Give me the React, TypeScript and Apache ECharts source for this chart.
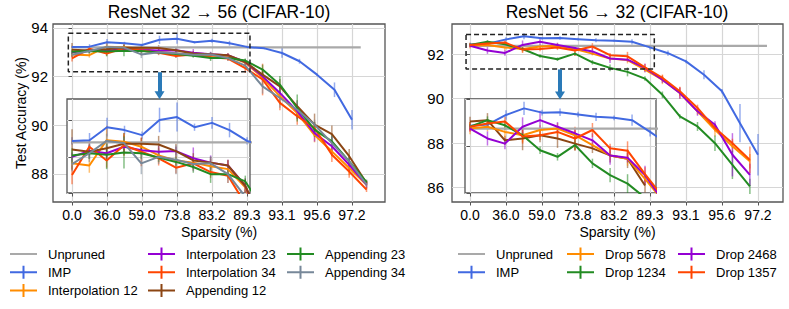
import React, { useEffect, useRef } from 'react';
import * as echarts from 'echarts';

const FONT = '"Liberation Sans", Arial, Helvetica, sans-serif';

// ---------- shared x-axis ticks ----------
const sparsityTicks = [0, 2, 4, 6, 8, 10, 12, 14, 16];
const sparsityLabels = ['0.0', '36.0', '59.0', '73.8', '83.2', '89.3', '93.1', '95.6', '97.2'];

// ---------- Left panel: ResNet 32 -> 56 ----------
const unprunedL = 93.2;
const unprunedSpan = [0, 16.5];
const impStepsL = [0, 1, 2, 3, 4, 5, 6, 7, 8, 9, 10, 11, 12, 13, 14, 15, 16];
const methodStepsL = [0, 0.99, 1.98, 2.97, 3.96, 4.95, 5.94, 6.93, 7.92, 8.91, 9.9, 10.89, 11.88, 12.87, 13.86, 14.85, 15.84, 16.83];

const impL = [93.22, 93.23, 93.41, 93.37, 93.3, 93.51, 93.55, 93.41, 93.47, 93.37, 93.22, 93.16, 92.97, 92.63, 92.08, 91.46, 90.23];
const impErrL = [0.05, 0.1, 0.13, 0.06, 0.05, 0.17, 0.2, 0.05, 0.08, 0.1, 0.05, 0.04, 0.2, 0.1, 0.05, 0.3, 0.4];

const interp12 = [92.91, 92.88, 93.23, 93.21, 93.14, 93.02, 92.95, 92.92, 92.87, 92.83, 92.58, 91.95, 91.2, 90.5, 89.6, 88.93, 88.25, 87.56];
const interp12Err = [0.08, 0.1, 0.2, 0.12, 0.08, 0.1, 0.06, 0.08, 0.1, 0.12, 0.1, 0.3, 0.35, 0.25, 0.3, 0.2, 0.3, 0.15];
const interp23 = [93.0, 93.08, 93.05, 93.14, 93.09, 93.07, 93.08, 92.98, 92.92, 92.88, 92.6, 92.01, 91.33, 90.58, 89.68, 89.14, 88.38, 87.56];
const interp23Err = [0.06, 0.08, 0.1, 0.07, 0.06, 0.08, 0.06, 0.15, 0.1, 0.08, 0.1, 0.2, 0.25, 0.3, 0.35, 0.4, 0.3, 0.15];
const interp34 = [92.75, 93.14, 92.95, 93.16, 93.07, 92.98, 92.85, 92.91, 92.79, 92.74, 92.35, 91.88, 90.92, 90.37, 89.89, 88.79, 88.1, 87.36];
const interp34Err = [0.13, 0.08, 0.1, 0.15, 0.2, 0.1, 0.08, 0.1, 0.08, 0.1, 0.2, 0.65, 0.3, 0.35, 0.25, 0.3, 0.25, 0.1];
const append12 = [93.1, 93.07, 93.12, 93.18, 93.18, 93.17, 93.08, 92.95, 92.92, 92.88, 92.6, 92.08, 91.6, 90.78, 90.03, 89.64, 88.73, 87.63];
const append12Err = [0.28, 0.1, 0.12, 0.15, 0.08, 0.12, 0.1, 0.1, 0.08, 0.08, 0.1, 0.2, 0.3, 0.25, 0.45, 0.35, 0.3, 0.1];
const append23 = [93.02, 93.05, 93.03, 93.06, 93.05, 92.99, 92.93, 92.86, 92.76, 92.76, 92.66, 92.29, 91.67, 90.71, 89.82, 89.34, 88.52, 87.67];
const append23Err = [0.1, 0.08, 0.2, 0.22, 0.08, 0.06, 0.06, 0.08, 0.12, 0.06, 0.08, 0.2, 0.35, 0.55, 0.3, 0.25, 0.2, 0.1];
const append34 = [92.9, 93.05, 93.22, 93.19, 92.91, 93.0, 92.96, 92.9, 92.91, 92.76, 92.45, 91.6, 91.12, 90.64, 90.03, 89.27, 88.52, 87.56];
const append34Err = [0.1, 0.12, 0.1, 0.08, 0.15, 0.1, 0.2, 0.1, 0.1, 0.12, 0.1, 0.3, 0.4, 0.35, 0.2, 0.3, 0.25, 0.1];

// ---------- Right panel: ResNet 56 -> 32 ----------
const unprunedR = 92.37;
const impStepsR = [0, 1, 2, 3, 4, 5, 6, 7, 8, 9, 10, 11, 12, 13, 14, 15, 16];
const dropSteps = [0, 0.97, 1.94, 2.92, 3.89, 4.86, 5.83, 6.8, 7.78, 8.75, 9.72, 10.69, 11.66, 12.64, 13.61, 14.58, 15.55];

const impR = [92.43, 92.46, 92.66, 92.8, 92.71, 92.72, 92.67, 92.62, 92.6, 92.55, 92.3, 92.04, 91.67, 91.07, 90.33, 88.9, 87.48];
const impErrR = [0.08, 0.1, 0.1, 0.14, 0.06, 0.08, 0.06, 0.09, 0.05, 0.12, 0.1, 0.12, 0.08, 0.2, 0.1, 0.86, 0.93];
const drop5678 = [92.37, 92.41, 92.3, 92.23, 92.34, 92.37, 92.23, 92.02, 91.8, 91.73, 91.3, 90.85, 90.25, 89.43, 88.6, 87.86, 87.19];
const drop5678Err = [0.12, 0.1, 0.15, 0.15, 0.1, 0.12, 0.1, 0.08, 0.1, 0.15, 0.12, 0.2, 0.25, 0.15, 0.3, 0.25, 0.33];
const drop1234 = [92.41, 92.55, 92.44, 92.23, 91.91, 91.77, 92.02, 91.63, 91.38, 91.2, 90.9, 90.17, 89.2, 88.75, 88.0, 87.03, 86.06];
const drop1234Err = [0.06, 0.08, 0.1, 0.06, 0.08, 0.08, 0.1, 0.1, 0.15, 0.2, 0.1, 0.15, 0.1, 0.2, 0.35, 0.64, 0.34];
const drop2468 = [92.37, 92.16, 92.05, 92.41, 92.55, 92.41, 92.27, 92.12, 91.8, 91.75, 91.38, 90.85, 90.25, 89.43, 88.83, 87.48, 86.58];
const drop2468Err = [0.06, 0.15, 0.12, 0.2, 0.2, 0.1, 0.1, 0.15, 0.2, 0.1, 0.2, 0.15, 0.25, 0.2, 0.15, 0.97, 0.5];
const drop1357 = [92.41, 92.48, 92.52, 92.2, 92.23, 92.3, 92.16, 92.34, 91.95, 91.9, 91.4, 90.93, 90.33, 89.58, 88.68, 88.0, 87.25];
const drop1357Err = [0.1, 0.08, 0.1, 0.15, 0.1, 0.12, 0.25, 0.15, 0.1, 0.2, 0.15, 0.15, 0.2, 0.15, 0.15, 0.2, 0.6];
// brown curve only visible inside the right inset
const insetExtra = [92.52, 92.55, 92.12, 92.16, 92.23, 92.16, 92.05, 91.95, 91.8, 91.73, 91.16];
const insetExtraErr = [0.1, 0.15, 0.1, 0.25, 0.15, 0.2, 0.15, 0.1, 0.15, 0.2, 0.15];

// ---------- colours ----------
const C = {
  unpruned: '#a9a9a9',
  imp: '#4169e1',
  orange: '#ff8c00',
  purple: '#9400d3',
  red: '#ff4500',
  brown: '#8b4513',
  green: '#228b22',
  slate: '#778899',
  arrow: '#2a7ab8',
};

const AXIS_COLOR = '#555';
const GRID_COLOR = '#d6d6d6';

const crossIcon = 'path://M0,5.5h27v2H0z M12.5,0h2v13h-2z M33,6.5';
const plainIcon = 'path://M0,5.5h27v2H0z M0,0 M33,13';

function labelFor(v: number) {
  const i = sparsityTicks.findIndex((t) => Math.abs(t - v) < 1e-6);
  return i >= 0 ? sparsityLabels[i] : '';
}

function mainX(gridIndex: number, min: number, max: number) {
  return {
    type: 'value', gridIndex, min, max, z: 0,
    axisLine: { show: false },
    axisTick: { show: true, length: 3.5, lineStyle: { color: AXIS_COLOR, width: 1 }, customValues: sparsityTicks },
    axisLabel: { customValues: sparsityTicks, formatter: (v: number) => labelFor(v), fontSize: 14, color: '#000', fontFamily: FONT, margin: 6 },
    splitLine: { show: true, lineStyle: { color: GRID_COLOR, width: 1.2 } },
    name: 'Sparsity (%)', nameLocation: 'middle', nameGap: 22.5, nameMoveOverlap: false,
    nameTextStyle: { fontSize: 14, color: '#000', fontFamily: FONT },
  };
}

function mainY(gridIndex: number, min: number, max: number, ticks: number[], margin: number, name?: string) {
  return {
    type: 'value', gridIndex, min, max, z: 0,
    axisLine: { show: false },
    axisTick: { show: true, length: 3.5, lineStyle: { color: AXIS_COLOR, width: 1 }, customValues: ticks },
    axisLabel: { customValues: ticks, formatter: (v: number) => String(Math.round(v)), fontSize: 15, color: '#000', fontFamily: FONT, margin },
    splitLine: { show: true, lineStyle: { color: GRID_COLOR, width: 1.2 } },
    name: name || '', nameLocation: 'middle', nameGap: 25, nameMoveOverlap: false,
    nameTextStyle: { fontSize: 14, color: '#000', fontFamily: FONT },
  };
}

function insetX(gridIndex: number, min: number, max: number, ticks: number[]) {
  return {
    type: 'value', gridIndex, min, max, z: 5,
    axisLine: { show: false },
    axisTick: { show: true, length: 3.5, lineStyle: { color: AXIS_COLOR, width: 1 }, customValues: ticks },
    axisLabel: { show: false, customValues: ticks },
    splitLine: { show: true, lineStyle: { color: GRID_COLOR, width: 1.2 } },
  };
}

function insetY(gridIndex: number, min: number, max: number, ticks: number[]) {
  return {
    type: 'value', gridIndex, min, max, z: 5,
    axisLine: { show: false },
    axisTick: { show: true, length: 3.5, lineStyle: { color: AXIS_COLOR, width: 1 }, customValues: ticks },
    axisLabel: { show: false, customValues: ticks },
    splitLine: { show: true, lineStyle: { color: GRID_COLOR, width: 1.2 } },
  };
}

function lineS(name: string, color: string, xs: number[], ys: number[], axis: number, z: number, width = 2) {
  return {
    type: 'line', name, xAxisIndex: axis, yAxisIndex: axis,
    data: ys.map((y, i) => [xs[i], y]),
    symbol: 'none', color, lineStyle: { color, width }, itemStyle: { color },
    z, silent: true, clip: true, animation: false,
  };
}

function errS(name: string, color: string, xs: number[], ys: number[], es: number[], axis: number, z: number) {
  return {
    type: 'custom', name: name + ' (std)', xAxisIndex: axis, yAxisIndex: axis,
    dimensions: ['x', 'y', 'e'],
    encode: { x: 0, y: 1 },
    data: ys.map((y, i) => [xs[i], y, es[i]]),
    z, silent: true, animation: false,
    renderItem: (params: any, api: any) => {
      const x = api.value(0);
      const y = api.value(1);
      const e = api.value(2);
      const p1 = api.coord([x, y + e]);
      const p2 = api.coord([x, y - e]);
      const cs = params.coordSys;
      if (p1[0] < cs.x - 0.5 || p1[0] > cs.x + cs.width + 0.5) return null;
      const top = Math.max(p1[1], cs.y);
      const bot = Math.min(p2[1], cs.y + cs.height);
      if (bot <= top) return null;
      return {
        type: 'line',
        shape: { x1: p1[0], y1: top, x2: p1[0], y2: bot },
        style: { stroke: color, lineWidth: 1.5, opacity: 0.55 },
      };
    },
  };
}

function withErr(name: string, color: string, xs: number[], ys: number[], es: number[], axis: number, z: number) {
  return [errS(name, color, xs, ys, es, axis, z), lineS(name, color, xs, ys, axis, z + 0.1)];
}

function boxS(axis: number, x0: number, x1: number, y0: number, y1: number, ax: number, ayFrom: number, ayTo: number) {
  return {
    type: 'line', name: 'zoom-box', xAxisIndex: axis, yAxisIndex: axis,
    data: [[x0, y1], [x1, y1], [x1, y0], [x0, y0], [x0, y1]],
    symbol: 'none', lineStyle: { color: '#222', width: 1.5, type: [5, 3] },
    z: 4, silent: true, animation: false, clip: false,
    markLine: {
      silent: true, animation: false,
      symbol: ['none', 'triangle'], symbolSize: [10, 8],
      label: { show: false },
      lineStyle: { color: C.arrow, width: 4, type: 'solid' },
      data: [[{ coord: [ax, ayFrom] }, { coord: [ax, ayTo] }]],
    },
  };
}

const legendBase = {
  orient: 'vertical', padding: 0, itemWidth: 33, itemHeight: 13, itemGap: 5.3,
  selectedMode: false,
  textStyle: { fontSize: 13, color: '#000', fontFamily: FONT },
  itemStyle: { borderWidth: 0 },
};

function buildOption() {
  const series: any[] = [];
  // ----- left main (axis 0) and inset (axis 1) -----
  series.push(lineS('Unpruned', C.unpruned, unprunedSpan, [unprunedL, unprunedL], 0, 2, 2.2));
  const leftMethods: [string, string, number[], number[]][] = [
    ['Interpolation 12', C.orange, interp12, interp12Err],
    ['Interpolation 23', C.purple, interp23, interp23Err],
    ['Interpolation 34', C.red, interp34, interp34Err],
    ['Appending 12', C.brown, append12, append12Err],
    ['Appending 23', C.green, append23, append23Err],
    ['Appending 34', C.slate, append34, append34Err],
  ];
  for (const axis of [0, 1]) {
    const zb = axis === 0 ? 2 : 6;
    if (axis === 1) series.push(lineS('Unpruned', C.unpruned, unprunedSpan, [unprunedL, unprunedL], 1, zb, 2.2));
    series.push(...withErr('IMP', C.imp, impStepsL, impL, impErrL, axis, zb));
    for (const [n, c, ys, es] of leftMethods) series.push(...withErr(n, c, methodStepsL, ys, es, axis, zb));
  }
  // ----- right main (axis 2) and inset (axis 3) -----
  const rightMethods: [string, string, number[], number[]][] = [
    ['Drop 5678', C.orange, drop5678, drop5678Err],
    ['Drop 1234', C.green, drop1234, drop1234Err],
    ['Drop 2468', C.purple, drop2468, drop2468Err],
    ['Drop 1357', C.red, drop1357, drop1357Err],
  ];
  for (const axis of [2, 3]) {
    const zb = axis === 2 ? 2 : 6;
    series.push(lineS('Unpruned', C.unpruned, unprunedSpan, [unprunedR, unprunedR], axis, zb, 2.2));
    series.push(...withErr('IMP', C.imp, impStepsR, impR, impErrR, axis, zb));
    if (axis === 3) series.push(...withErr('inset extra', C.brown, dropSteps, insetExtra, insetExtraErr, axis, zb));
    for (const [n, c, ys, es] of rightMethods) series.push(...withErr(n, c, dropSteps, ys, es, axis, zb));
  }
  // zoom boxes + arrows
  series.push(boxS(0, -0.21, 10.17, 92.2, 93.78, 5, 92.18, 91.23));
  series.push(boxS(2, -0.22, 10.24, 91.33, 92.88, 5, 91.31, 90.14));

  return {
    animation: false,
    backgroundColor: '#fff',
    title: [
      { text: 'ResNet 32 → 56 (CIFAR-10)', left: 219, top: 3, padding: 0, textAlign: 'center', textStyle: { fontSize: 17.5, fontWeight: 'normal', color: '#000', fontFamily: FONT } },
      { text: 'ResNet 56 → 32 (CIFAR-10)', left: 617, top: 3, padding: 0, textAlign: 'center', textStyle: { fontSize: 17.5, fontWeight: 'normal', color: '#000', fontFamily: FONT } },
    ],
    grid: [
      { left: 53, top: 24, width: 332, height: 178, show: true, borderColor: AXIS_COLOR, borderWidth: 1.3, backgroundColor: '#fff', z: 0 },
      { left: 67, top: 99, width: 183, height: 94, show: true, borderColor: AXIS_COLOR, borderWidth: 1.3, backgroundColor: '#fff', z: 5 },
      { left: 452, top: 24, width: 331, height: 178, show: true, borderColor: AXIS_COLOR, borderWidth: 1.3, backgroundColor: '#fff', z: 0 },
      { left: 465, top: 99, width: 191, height: 94, show: true, borderColor: AXIS_COLOR, borderWidth: 1.3, backgroundColor: '#fff', z: 5 },
    ],
    xAxis: [
      mainX(0, -1.086, 17.886),
      insetX(1, -0.286, 10.17, [0, 2, 4, 6, 8, 10]),
      mainX(2, -1.0, 17.39),
      insetX(3, -0.278, 10.33, [0, 2, 4, 6, 8, 10]),
    ],
    yAxis: [
      mainY(0, 86.85, 94.16, [88, 90, 92, 94], 5, 'Test Accuracy (%)'),
      insetY(1, 92.5, 93.8, [92.5, 93.0, 93.5]),
      mainY(2, 85.36, 93.35, [86, 88, 90, 92], 8),
      insetY(3, 91.0, 93.0, [91, 92, 93]),
    ],
    legend: [
      { ...legendBase, left: 10, top: 247.5, data: [{ name: 'Unpruned', icon: plainIcon }, { name: 'IMP', icon: crossIcon }, { name: 'Interpolation 12', icon: crossIcon }] },
      { ...legendBase, left: 148, top: 247.5, data: [{ name: 'Interpolation 23', icon: crossIcon }, { name: 'Interpolation 34', icon: crossIcon }, { name: 'Appending 12', icon: crossIcon }] },
      { ...legendBase, left: 287, top: 247.5, data: [{ name: 'Appending 23', icon: crossIcon }, { name: 'Appending 34', icon: crossIcon }] },
      { ...legendBase, left: 458, top: 247.5, data: [{ name: 'Unpruned', icon: plainIcon }, { name: 'IMP', icon: crossIcon }] },
      { ...legendBase, left: 567, top: 247.5, data: [{ name: 'Drop 5678', icon: crossIcon }, { name: 'Drop 1234', icon: crossIcon }] },
      { ...legendBase, left: 678, top: 247.5, data: [{ name: 'Drop 2468', icon: crossIcon }, { name: 'Drop 1357', icon: crossIcon }] },
    ],
    series,
  };
}

export default function App() {
  const ref = useRef<HTMLDivElement>(null);
  useEffect(() => {
    if (!ref.current) return;
    const chart = echarts.init(ref.current, null, { renderer: 'svg' });
    chart.setOption(buildOption() as any);
    return () => chart.dispose();
  }, []);
  return <div ref={ref} style={{ position: 'fixed', left: 0, top: 0, width: 789, height: 309 }} />;
}
